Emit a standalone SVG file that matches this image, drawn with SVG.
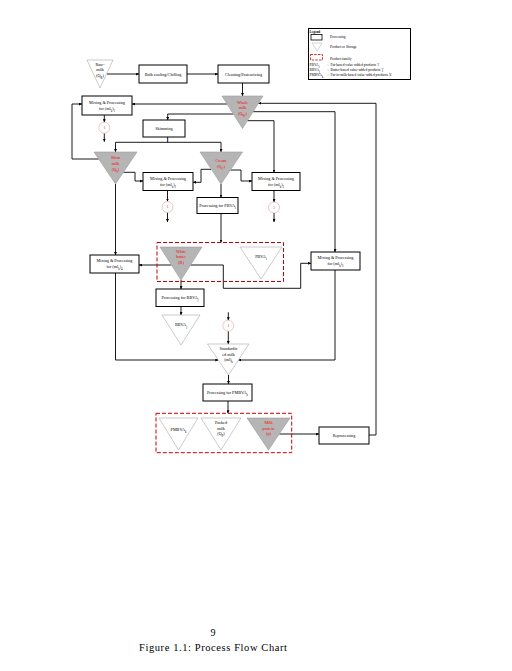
<svg xmlns="http://www.w3.org/2000/svg" width="512" height="671" viewBox="0 0 512 671">
<defs>
<marker id="ah" viewBox="0 0 6 6" refX="6" refY="3" markerWidth="3" markerHeight="3" markerUnits="userSpaceOnUse" orient="auto"><path d="M0,0 L6,3 L0,6 z" fill="#000"/></marker>
<style>
text{font-family:"Liberation Serif","Times New Roman",serif;font-size:4.2px;text-anchor:middle;fill:#000}
.box{fill:#fff;stroke:#000;stroke-width:1}
.tg{fill:#b5b5b5;stroke:#9a9a9a;stroke-width:0.6}
.tw{fill:#fff;stroke:#a8a8a8;stroke-width:0.6}
.fam{fill:none;stroke:#c00000;stroke-width:1;stroke-dasharray:4 2}
.circ{fill:#fff;stroke:#e0a0a0;stroke-width:0.6}
.cn{fill:#c00000;font-size:3.4px}
.red{fill:#ff0000}
.s{font-size:3px}
#connectors path{fill:none;stroke:#000;stroke-width:0.9}
.a{marker-end:url(#ah)}
.lg text{text-anchor:start;font-size:3.6px}
</style>
</defs>
<rect width="512" height="671" fill="#fff"/>

<g id="legend" class="lg">
<rect x="308.5" y="28.5" width="102" height="51" fill="#fff" stroke="#000" stroke-width="1"/>
<text x="309.5" y="32.5" font-weight="bold" style="font-size:3.4px">Legend</text>
<rect x="311" y="34.5" width="11" height="5.5" fill="#fff" stroke="#000" stroke-width="0.8"/>
<text x="330" y="38">Processing</text>
<polygon points="312,43 322,43 317,51" fill="#fff" stroke="#a8a8a8" stroke-width="0.5"/>
<text x="330" y="48.3">Product or Storage</text>
<rect x="310.5" y="54.5" width="12" height="5.5" fill="none" stroke="#c00000" stroke-width="0.8" stroke-dasharray="2.5 1.2"/>
<text x="330" y="59.8">Product family</text>
<text x="309.5" y="65.5">PBVA<tspan class="s" baseline-shift="sub">i</tspan></text><text x="327.5" y="65.5">:</text><text x="330.5" y="65.5">Fat-based value-added products 'i'</text>
<text x="309.5" y="71">BBVA<tspan class="s" baseline-shift="sub">j</tspan></text><text x="327.5" y="71">:</text><text x="330.5" y="71">Butter-based value-added products 'j'</text>
<text x="309.5" y="76">PMBVA<tspan class="s" baseline-shift="sub">k</tspan></text><text x="327.5" y="76">:</text><text x="330.5" y="76">Fat-in-milk-based value-added products 'k'</text>
</g>

<g id="connectors">
<path class="a" d="M107,74 H139"/>
<path class="a" d="M187,74 H218"/>
<path class="a" d="M242.5,83 V96"/>
<path class="a" d="M227,104 H132"/>
<path class="a" d="M233.4,114 H167.7 V120"/>
<path class="a" d="M247.4,120.7 H274 V172.5"/>
<path class="a" d="M253.1,111.7 H335 V252"/>
<path class="a" d="M369,435 H376 V103.3 H258.4"/>
<path class="a" d="M98.7,159 H72 V104 H82"/>
<path class="a" d="M104.3,115 V122.2"/>
<path class="a" d="M104.3,133.2 V141.7"/>
<path d="M167.7,137 V142.3 M115.5,142.3 H221"/>
<path class="a" d="M115.5,142.3 V152"/>
<path class="a" d="M221,142.3 V152"/>
<path class="a" d="M123.4,172.3 H135 V181 H143"/>
<path class="a" d="M211,169.3 H201 V182.3 H193"/>
<path class="a" d="M230.4,170 H241 V181 H252"/>
<path class="a" d="M167.5,190.5 V201.5"/>
<path class="a" d="M167.5,212.5 V222"/>
<path class="a" d="M274,190.5 V202"/>
<path class="a" d="M274,213 V222"/>
<path class="a" d="M221,184 V197.5"/>
<path class="a" d="M221,213.5 V242.5"/>
<path class="a" d="M115.5,184 V255"/>
<path class="a" d="M171.5,265 H139"/>
<path class="a" d="M190.5,265 H223.3 V288.3 H300.7 V263.3 H311"/>
<path class="a" d="M181,280 V289"/>
<path class="a" d="M181,306.5 V315"/>
<path class="a" d="M115.5,273 V360 H218.3"/>
<path class="a" d="M335,270 V360 H238.4"/>
<path class="a" d="M228.3,312.3 V320.2"/>
<path class="a" d="M228.3,331.2 V344"/>
<path class="a" d="M228.5,375 V384"/>
<path class="a" d="M228,401 V413.3"/>
<path class="a" d="M279.3,434 H319"/>
</g>

<g id="raw-milk">
<polygon class="tw" points="87,60 113,60 100,88"/>
<text x="100" y="65.5">Raw-</text><text x="100" y="71">milk</text><text x="100" y="76.5">(Q<tspan class="s" baseline-shift="sub">R</tspan>)</text>
</g>
<g id="bulk-cooling"><rect class="box" x="139" y="65" width="48" height="18"/><text x="163" y="75.5">Bulk cooling/Chilling</text></g>
<g id="cleaning"><rect class="box" x="218" y="65" width="51" height="18"/><text x="243.5" y="75.5">Cleaning/Pasteurizing</text></g>
<g id="whole-milk">
<polygon class="tg" points="222,96 263,96 242.5,128.5"/>
<text class="red" x="242.5" y="103.5">Whole</text><text class="red" x="242.5" y="109">milk</text><text class="red" x="242.5" y="115">(Q<tspan class="s" baseline-shift="sub">W</tspan>)</text>
</g>
<g id="mix1"><rect class="box" x="82" y="96" width="50" height="19"/><text x="107" y="103.5">Mixing &amp; Processing</text><text x="107" y="109.5">for (ml<tspan class="s" baseline-shift="sub">k</tspan>)<tspan class="s" baseline-shift="sub">1</tspan></text></g>
<g id="conn1"><circle class="circ" cx="104.3" cy="127.7" r="5.5"/><text class="cn" x="104.3" y="128.9">1</text></g>
<g id="skimming"><rect class="box" x="143" y="120" width="42" height="17"/><text x="164" y="130">Skimming</text></g>
<g id="skim-milk">
<polygon class="tg" points="94,152 137,152 115.5,184"/>
<text class="red" x="115.5" y="158.5">Skim</text><text class="red" x="115.5" y="164.5">milk</text><text class="red" x="115.5" y="170.5">(Q<tspan class="s" baseline-shift="sub">S</tspan>)</text>
</g>
<g id="cream">
<polygon class="tg" points="200,152 242.5,152 221,184"/>
<text class="red" x="221" y="161.5">Cream</text><text class="red" x="221" y="167.5">(Q<tspan class="s" baseline-shift="sub">C</tspan>)</text>
</g>
<g id="mix2"><rect class="box" x="143" y="172.5" width="50" height="18"/><text x="168" y="179.5">Mixing &amp; Processing</text><text x="168" y="185.5">for (ml<tspan class="s" baseline-shift="sub">k</tspan>)<tspan class="s" baseline-shift="sub">2</tspan></text></g>
<g id="mix3"><rect class="box" x="252" y="172.5" width="48" height="18"/><text x="276" y="179.5">Mixing &amp; Processing</text><text x="276" y="185.5">for (ml<tspan class="s" baseline-shift="sub">k</tspan>)<tspan class="s" baseline-shift="sub">3</tspan></text></g>
<g id="conn2"><circle class="circ" cx="167.5" cy="207" r="5.5"/><text class="cn" x="167.5" y="208.2">1</text></g>
<g id="conn3"><circle class="circ" cx="274" cy="207.5" r="5.5"/><text class="cn" x="274" y="208.7">1</text></g>
<g id="proc-pbva"><rect class="box" x="197" y="197.5" width="41" height="16"/><text x="217.5" y="207">Processing for PBVA<tspan class="s" baseline-shift="sub">i</tspan></text></g>
<g id="family1"><rect class="fam" x="157" y="242.5" width="126.5" height="39"/></g>
<g id="white-butter">
<polygon class="tg" points="160,247 202,247 181,280"/>
<text class="red" x="181" y="252.8">White</text><text class="red" x="181" y="258.3">butter</text><text class="red" x="181" y="264">(B)</text>
</g>
<g id="pbva"><polygon class="tw" points="240,247 282,247 261,279"/><text x="261" y="257.5">PBVA<tspan class="s" baseline-shift="sub">i</tspan></text></g>
<g id="mix4"><rect class="box" x="90" y="255" width="49" height="18"/><text x="114.5" y="262">Mixing &amp; Processing</text><text x="114.5" y="268">for (ml<tspan class="s" baseline-shift="sub">k</tspan>)<tspan class="s" baseline-shift="sub">4</tspan></text></g>
<g id="mix5"><rect class="box" x="311" y="252" width="49" height="18"/><text x="335.5" y="259">Mixing &amp; Processing</text><text x="335.5" y="265">for (ml<tspan class="s" baseline-shift="sub">k</tspan>)<tspan class="s" baseline-shift="sub">5</tspan></text></g>
<g id="proc-bbva"><rect class="box" x="156" y="289" width="48" height="17.5"/><text x="180" y="299">Processing for BBVA<tspan class="s" baseline-shift="sub">j</tspan></text></g>
<g id="bbva"><polygon class="tw" points="162,315 200,315 181,345"/><text x="181" y="325.5">BBVA<tspan class="s" baseline-shift="sub">j</tspan></text></g>
<g id="conn4"><circle class="circ" cx="228.3" cy="325.7" r="5.5"/><text class="cn" x="228.3" y="326.9">1</text></g>
<g id="std-milk">
<polygon class="tw" points="207.5,344 249,344 228.5,375"/>
<text x="228.5" y="350">Standardiz</text><text x="228.5" y="355.5">ed milk</text><text x="228.5" y="361">(ml)<tspan class="s" baseline-shift="sub">k</tspan></text>
</g>
<g id="proc-pmbva"><rect class="box" x="203" y="384" width="49" height="17"/><text x="227.5" y="394">Processing for PMBVA<tspan class="s" baseline-shift="sub">k</tspan></text></g>
<g id="family2"><rect class="fam" x="156" y="413.3" width="135.7" height="39.4"/></g>
<g id="pmbva"><polygon class="tw" points="159,418 198,418 178.5,450"/><text x="178.5" y="431">PMBVA<tspan class="s" baseline-shift="sub">k</tspan></text></g>
<g id="packed-milk">
<polygon class="tw" points="201,418 241,418 221,450"/>
<text x="221" y="424">Packed</text><text x="221" y="429.5">milk</text><text x="221" y="435">(Q<tspan class="s" baseline-shift="sub">P</tspan>)</text>
</g>
<g id="milk-protein">
<polygon class="tg" points="247,418 290,418 268.5,450"/>
<text class="red" x="268.5" y="424">Milk</text><text class="red" x="268.5" y="429.5">protein</text><text class="red" x="268.5" y="435">(p)</text>
</g>
<g id="reprocessing"><rect class="box" x="319" y="427" width="50" height="17"/><text x="344" y="437">Reprocessing</text></g>

<text x="213" y="636" style="font-size:10px">9</text>
<text x="213" y="650.5" style="font-size:10.5px" textLength="148">Figure 1.1: Process Flow Chart</text>
</svg>
